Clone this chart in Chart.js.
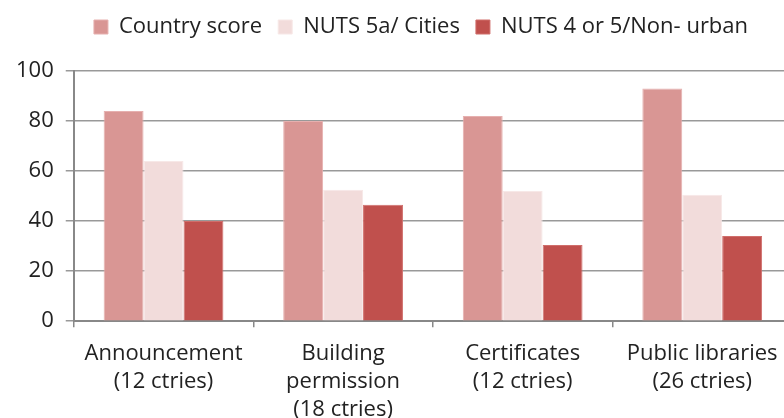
<!DOCTYPE html>
<html>
<head>
<meta charset="utf-8">
<script src="https://cdn.jsdelivr.net/npm/chart.js@4"></script>
<style>
html,body{margin:0;padding:0;background:#fff;overflow:hidden;}
#wrap{width:852px;height:418px;position:relative;overflow:hidden;}
</style>
</head>
<body>
<div id="wrap"><canvas id="c" width="852" height="437"></canvas></div>
<script>
const categories = [
  ["Announcement", "(12 ctries)"],
  ["Building", "permission", "(18 ctries)"],
  ["Certificates", "(12 ctries)"],
  ["Public libraries", "(26 ctries)"]
];
const seriesNames = ["Country score", "NUTS 5a/ Cities", "NUTS 4 or 5/Non- urban"];
const countryScore = [84, 80, 82, 93];
const citiesScore = [64, 52.5, 52, 50.5];
const nonUrbanScore = [40, 46.5, 30.5, 34];
const yTicks = [0, 20, 40, 60, 80, 100];

const colors = ["#D99694", "#F2DCDB", "#C0504D"];
const borders = ["#E6B0AF", "#F7E8E7", "#D06E6B"];

const font = "'Open Sans', sans-serif";

const legendGap = {
  id: 'legendGap',
  beforeInit(chart) {
    const origFit = chart.legend.fit;
    chart.legend.fit = function () {
      origFit.bind(chart.legend)();
      this.height += 23;
    };
  },
  afterLayout(chart) {
    chart.legend.left += 23;
    chart.legend.right += 23;
  }
};

new Chart(document.getElementById('c'), {
  type: 'bar',
  data: {
    labels: categories,
    datasets: [
      {label: seriesNames[0], data: countryScore, backgroundColor: colors[0], borderColor: borders[0], borderWidth: 1},
      {label: seriesNames[1], data: citiesScore, backgroundColor: colors[1], borderColor: borders[1], borderWidth: 1},
      {label: seriesNames[2], data: nonUrbanScore, backgroundColor: colors[2], borderColor: borders[2], borderWidth: 1}
    ]
  },
  plugins: [legendGap],
  options: {
    responsive: false,
    animation: false,
    devicePixelRatio: 1,
    layout: {padding: {left: 4, right: 60, top: 0, bottom: 0}},
    datasets: {bar: {categoryPercentage: 0.667, barPercentage: 1.0}},
    plugins: {
      tooltip: {enabled: false},
      legend: {
        position: 'top',
        align: 'center',
        labels: {
          font: {family: font, size: 22},
          color: '#222',
          boxWidth: 14,
          boxHeight: 14,
          padding: 16,
          useBorderRadius: false
        }
      }
    },
    scales: {
      x: {
        offset: true,
        grid: {display: true, offset: true, drawOnChartArea: false, drawTicks: true, tickLength: 6, color: '#888', lineWidth: 1.5},
        border: {display: true, color: '#888', width: 2},
        ticks: {font: {family: font, size: 22, lineHeight: 1.27}, color: '#222', padding: 13, maxRotation: 0, autoSkip: false}
      },
      y: {
        min: 0,
        max: 100,
        afterBuildTicks: (axis) => { axis.ticks = yTicks.map(v => ({value: v})); },
        grid: {color: '#999', lineWidth: 1.5, drawTicks: true, tickLength: 8},
        border: {display: true, color: '#888', width: 2},
        ticks: {font: {family: font, size: 22}, color: '#222', padding: 12}
      }
    }
  }
});
</script>
</body>
</html>
